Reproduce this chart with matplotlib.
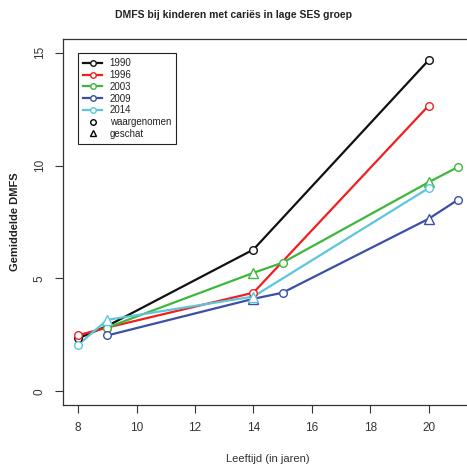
import matplotlib.pyplot as plt
from matplotlib.lines import Line2D

plt.rcParams['font.family'] = ['Liberation Sans', 'DejaVu Sans']

# mean DMFS per cohort; True marks an estimated (geschat) value
years = ['1990', '1996', '2003', '2009', '2014']
colors = ['#111111', '#f02020', '#3cb83c', '#3a4fa8', '#5cc6da']

ages_1990 = [8, 9, 14, 20]
dmfs_1990 = [2.35, 2.9, 6.28, 14.66]
est_1990 = [False, False, False, False]

ages_1996 = [8, 9, 14, 20]
dmfs_1996 = [2.49, 2.83, 4.37, 12.65]
est_1996 = [False, False, False, False]

ages_2003 = [9, 14, 15, 20, 21]
dmfs_2003 = [2.83, 5.25, 5.7, 9.26, 9.93]
est_2003 = [False, True, False, True, False]

ages_2009 = [9, 14, 15, 20, 21]
dmfs_2009 = [2.48, 4.1, 4.37, 7.64, 8.48]
est_2009 = [False, True, False, True, False]

ages_2014 = [8, 9, 14, 20]
dmfs_2014 = [2.07, 3.17, 4.2, 9.0]
est_2014 = [False, True, True, False]

series = [
    (ages_1990, dmfs_1990, est_1990),
    (ages_1996, dmfs_1996, est_1996),
    (ages_2003, dmfs_2003, est_2003),
    (ages_2009, dmfs_2009, est_2009),
    (ages_2014, dmfs_2014, est_2014),
]

fig = plt.figure(figsize=(4.67, 4.66), dpi=100)
ax = fig.add_axes([63 / 467, 1 - 405 / 466, 410 / 467, 366 / 466])

for (ages, vals, est), col in zip(series, colors):
    ax.plot(ages, vals, color=col, lw=1.6, zorder=2)
    obs_x = [a for a, e in zip(ages, est) if not e]
    obs_y = [v for v, e in zip(vals, est) if not e]
    est_x = [a for a, e in zip(ages, est) if e]
    est_y = [v for v, e in zip(vals, est) if e]
    ax.plot(obs_x, obs_y, 'o', ms=5.5, mfc='white', mec=col, mew=1.0, zorder=3)
    ax.plot(est_x, est_y, '^', ms=6.5, mfc='white', mec=col, mew=1.0, zorder=3)

ax.set_xlim(7.48, 21.52)
ax.set_ylim(-0.6, 15.6)
ax.set_xticks([8, 10, 12, 14, 16, 18, 20])
ax.set_yticks([0, 5, 10, 15])
ax.tick_params(direction='out', length=5.5, width=0.8, color='#333333',
               labelsize=8.5, labelcolor='#333333', pad=7)
for lab in ax.get_yticklabels():
    lab.set_rotation(90)
    lab.set_va('center')
for sp in ax.spines.values():
    sp.set_color('#333333')
    sp.set_linewidth(0.9)

ax.set_xlabel('Leeftijd (in jaren)', fontsize=8, labelpad=14, color='#333333')
ax.set_ylabel('Gemiddelde DMFS', fontsize=8, fontweight='bold', labelpad=10,
              color='#222222')
fig.text(0.5, 1 - 15 / 466, 'DMFS bij kinderen met cariës in lage SES groep',
         ha='center', va='center', fontsize=7.5, fontweight='bold', color='#222222')

handles = [Line2D([], [], color=c, lw=1.6, marker='o', ms=4, mfc='white', mec=c)
           for c in colors]
handles.append(Line2D([], [], ls='none', marker='o', ms=4, mfc='white', mec='black'))
handles.append(Line2D([], [], ls='none', marker='^', ms=5, mfc='white', mec='black'))
labels = years + ['waargenomen', 'geschat']
leg = ax.legend(handles, labels, loc='upper left', bbox_to_anchor=(0.0366, 0.9617),
                borderaxespad=0, fancybox=False, edgecolor='#222222', framealpha=1,
                fontsize=7, handlelength=1.9, handletextpad=0.8,
                labelspacing=0.18, borderpad=0.55, labelcolor='#222222')
leg.get_frame().set_linewidth(0.8)

fig.savefig('out.png', dpi=100)
